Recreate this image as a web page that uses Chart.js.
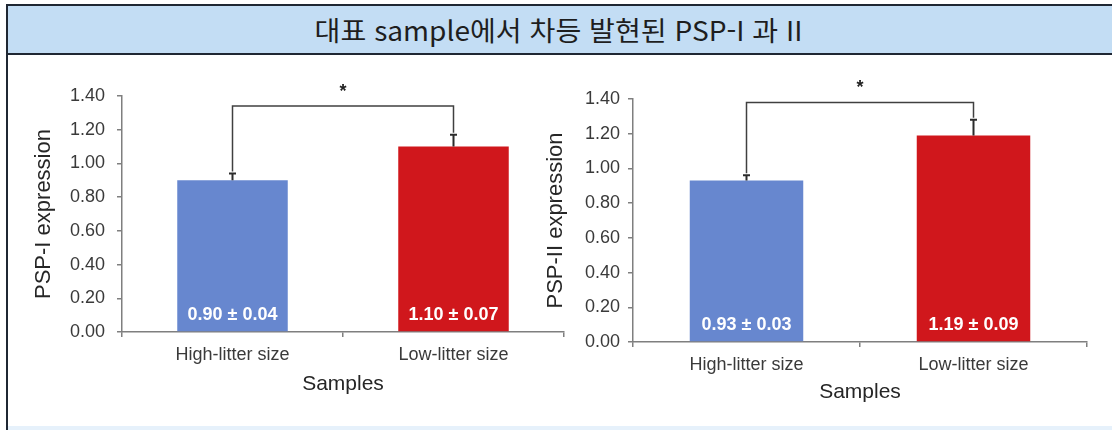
<!DOCTYPE html>
<html lang="ko">
<head>
<meta charset="utf-8">
<script src="https://cdn.jsdelivr.net/npm/chart.js@4"></script>
<style>
  html, body { margin: 0; padding: 0; background: #ffffff; }
  body { width: 1112px; height: 430px; position: relative; overflow: hidden; }
  #titleBar {
    position: absolute; left: 6px; top: 4px; right: 0; height: 47px;
    background: #c3ddf4;
    border-top: 2px solid #1f2733; border-bottom: 2px solid #1f2733;
    display: flex; align-items: center; justify-content: center;
    font-family: "Noto Sans CJK KR", "Noto Sans", sans-serif;
    font-size: 27px; color: #1e1e1e;
  }
  #titleBar span { display: inline-block; transform: scaleX(1.04); }
  #leftRule { position: absolute; left: 6px; top: 4px; bottom: 0; width: 2px; background: #1f2733; }
  #bottomStrip { position: absolute; left: 8px; right: 0; bottom: 0; height: 4px; background: #e6f1fb; }
  .panel { position: absolute; top: 0; height: 430px; }
  #panel1 { left: 0; width: 600px; }
  #panel2 { left: 520px; width: 592px; }
</style>
</head>
<body>
<div id="titleBar"><span>대표 sample에서 차등 발현된 PSP-I 과 II</span></div>
<div id="leftRule"></div>
<div id="bottomStrip"></div>
<div class="panel" id="panel1"><canvas id="c1"></canvas></div>
<div class="panel" id="panel2"><canvas id="c2"></canvas></div>
<script>
// Groups on the x axis
const categories = ['High-litter size', 'Low-litter size'];

// PSP-I relative expression (mean, standard deviation)
const psp1Mean = [0.90, 1.10];
const psp1Sd = [0.04, 0.07];

// PSP-II relative expression (mean, standard deviation)
const psp2Mean = [0.93, 1.19];
const psp2Sd = [0.03, 0.09];

// Height of the significance bracket for each panel
const bracketLevel = [1.34, 1.38];

// y-axis range and tick step
const yMax = 1.4;
const yStep = 0.2;

const barColors = ['#6787cf', '#d0171c'];
const axisColor = '#7f7f7f';
const textColor = '#3a3a3a';
const fontFamily = '"Liberation Sans", Arial, sans-serif';

// Error bars, mean ± SD text inside the bars, and the "*" bracket
const annotate = {
  id: 'annotate',
  afterDatasetsDraw(chart, args, opts) {
    const { ctx } = chart;
    const yScale = chart.scales.y;
    const meta = chart.getDatasetMeta(0);
    const ds = chart.data.datasets[0];
    const base = yScale.getPixelForValue(0);
    const tops = [];
    ctx.save();
    meta.data.forEach((bar, i) => {
      const mean = ds.data[i];
      const sd = opts.sd[i];
      const yTop = yScale.getPixelForValue(mean + sd);
      tops.push({ x: bar.x, y: yTop });
      ctx.strokeStyle = '#2b2b2b';
      ctx.lineWidth = 2;
      ctx.beginPath();
      ctx.moveTo(bar.x, bar.y);
      ctx.lineTo(bar.x, yTop);
      ctx.moveTo(bar.x - 3.5, yTop);
      ctx.lineTo(bar.x + 3.5, yTop);
      ctx.stroke();

      ctx.fillStyle = '#ffffff';
      ctx.font = 'bold 18px ' + fontFamily;
      ctx.textAlign = 'center';
      ctx.textBaseline = 'middle';
      ctx.fillText(mean.toFixed(2) + ' \u00b1 ' + sd.toFixed(2), bar.x, base - opts.labelLift);
    });

    const yb = yScale.getPixelForValue(opts.bracket);
    ctx.strokeStyle = '#404040';
    ctx.lineWidth = 1.5;
    ctx.beginPath();
    ctx.moveTo(tops[0].x, tops[0].y - 2);
    ctx.lineTo(tops[0].x, yb);
    ctx.lineTo(tops[1].x, yb);
    ctx.lineTo(tops[1].x, tops[1].y - 2);
    ctx.stroke();

    ctx.fillStyle = '#222222';
    ctx.font = 'bold 18px ' + fontFamily;
    ctx.textAlign = 'center';
    ctx.textBaseline = 'middle';
    ctx.fillText('*', (tops[0].x + tops[1].x) / 2, yb - 14);
    ctx.restore();
  }
};

function makeChart(canvasId, means, sds, yTitle, cfg) {
  return new Chart(document.getElementById(canvasId), {
    type: 'bar',
    data: {
      labels: categories,
      datasets: [{
        data: means,
        backgroundColor: barColors,
        borderWidth: 0,
        barPercentage: 0.5,
        categoryPercentage: 1.0
      }]
    },
    options: {
      responsive: true,
      maintainAspectRatio: false,
      animation: false,
      layout: { padding: { left: 0, top: cfg.top, right: cfg.right, bottom: 0 } },
      plugins: {
        legend: { display: false },
        tooltip: { enabled: false },
        annotate: { sd: sds, bracket: cfg.bracket, labelLift: 17 }
      },
      scales: {
        x: {
          offset: true,
          border: { display: true, color: axisColor, width: 1.5 },
          grid: { display: true, offset: true, drawOnChartArea: false, drawTicks: true, tickLength: 5, color: axisColor, lineWidth: 1.5 },
          ticks: { color: textColor, font: { family: fontFamily, size: 18 }, padding: cfg.xTickPad, maxRotation: 0 },
          title: { display: true, text: 'Samples', color: '#262626', font: { family: fontFamily, size: 21 }, padding: { top: 0, bottom: cfg.xTitlePad } },
          afterFit(scale) { scale.height = cfg.xHeight; }
        },
        y: {
          min: 0,
          max: yMax,
          border: { display: true, color: axisColor, width: 1.5 },
          grid: { display: true, drawOnChartArea: false, drawTicks: true, tickLength: 5, color: axisColor, lineWidth: 1.5 },
          ticks: {
            stepSize: yStep,
            color: textColor,
            padding: cfg.yTickPad,
            font: { family: fontFamily, size: 18 },
            callback: (v) => Number(v).toFixed(2)
          },
          title: { display: true, text: yTitle, color: '#262626', font: { family: fontFamily, size: 22 }, padding: { top: cfg.yTitlePad, bottom: 0 } },
          afterFit(scale) { scale.width = cfg.yWidth; }
        }
      }
    },
    plugins: [annotate]
  });
}

makeChart('c1', psp1Mean, psp1Sd, 'PSP-I expression', {
  top: 96, right: 36, yWidth: 122, xHeight: 98,
  yTickPad: 12, xTickPad: 7, yTitlePad: 31, xTitlePad: 33,
  bracket: bracketLevel[0]
});

makeChart('c2', psp2Mean, psp2Sd, 'PSP-II expression', {
  top: 99, right: 25, yWidth: 113, xHeight: 88,
  yTickPad: 8, xTickPad: 7, yTitlePad: 23, xTitlePad: 25,
  bracket: bracketLevel[1]
});
</script>
</body>
</html>
